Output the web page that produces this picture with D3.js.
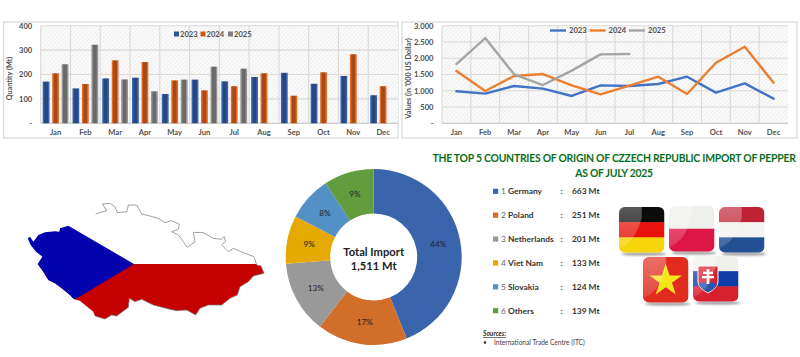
<!DOCTYPE html>
<html>
<head>
<meta charset="utf-8">
<script src="https://cdn.jsdelivr.net/npm/d3@7"></script>
<style>
  html, body { margin: 0; padding: 0; background: #fff; }
  svg { display: block; }
  text { font-family: Lato, "Open Sans", sans-serif; }
</style>
</head>
<body>
<script>
// data
const months = ["Jan", "Feb", "Mar", "Apr", "May", "Jun", "Jul", "Aug", "Sep", "Oct", "Nov", "Dec"];
const years = ["2023", "2024", "2025"];

const quantity2023 = [171, 143, 184, 187, 120, 179, 172, 190, 207, 162, 194, 115];
const quantity2024 = [205, 161, 258, 251, 176, 135, 152, 205, 113, 209, 283, 152];
const quantity2025 = [242, 322, 180, 131, 179, 232, 224];

const value2023 = [983, 911, 1147, 1065, 840, 1167, 1147, 1208, 1433, 942, 1229, 758];
const value2024 = [1607, 993, 1454, 1515, 1167, 891, 1157, 1433, 901, 1863, 2355, 1249];
const value2025 = [1822, 2621, 1505, 1177, 1618, 2119, 2130];

const countries = ["Germany", "Poland", "Netherlands", "Viet Nam", "Slovakia", "Others"];
const imports = [663, 251, 201, 133, 124, 139];

const quantityTicks = [0, 100, 200, 300, 400];
const valueTicks = [0, 500, 1000, 1500, 2000, 2500, 3000];

// outline of the country (west tip, clockwise)
const mapOutline = [[83,145],[90,140],[100,155],[115,135],[135,127],[165,124],[178,125],[180,115],[205,107],[215,100],[232,97],[238,85],[265,80],[300,68],[320,62],[307,42],[330,40],[345,50],[352,68],[380,65],[385,45],[410,45],[425,72],[450,78],[475,85],[495,98],[515,92],[538,103],[535,118],[515,125],[535,135],[550,155],[562,172],[585,155],[580,127],[610,128],[640,145],[665,148],[672,140],[677,155],[665,165],[685,185],[700,175],[730,188],[762,200],[770,225],[783,228],[792,250],[760,258],[745,275],[720,290],[712,315],[690,325],[665,345],[625,345],[600,355],[587,375],[560,360],[530,362],[510,358],[480,350],[460,345],[425,328],[405,335],[388,325],[385,352],[350,378],[335,375],[315,387],[285,378],[280,365],[255,345],[240,332],[222,328],[210,315],[185,295],[165,280],[145,270],[130,245],[113,222],[127,200],[108,185],[92,165]];

const yearColors = { "2023": "#2F5597", "2024": "#C55A1C", "2025": "#7F7F7F" };
const lineColors = { "2023": "#4472C4", "2024": "#ED7D31", "2025": "#A5A5A5" };
const sliceColors = ["#3A64AC", "#D06E2A", "#999999", "#E5A900", "#5390C4", "#639C3E"];

const svg = d3.select("body").append("svg")
  .attr("width", 800)
  .attr("height", 357);
const defs = svg.append("defs");

// light hatched plot background
let hatch = defs.append("pattern")
  .attr("id", "hatch")
  .attr("width", 3).attr("height", 3)
  .attr("patternUnits", "userSpaceOnUse")
  .attr("patternTransform", "rotate(45)");
hatch.append("rect").attr("width", 3).attr("height", 3).attr("fill", "#fbfbfb");
hatch.append("line").attr("x1", 0).attr("y1", 0).attr("x2", 0).attr("y2", 3)
  .attr("stroke", "#e8e8e8").attr("stroke-width", 1.4);

// bevel look of the bars
years.forEach(y => {
  let c = d3.color(yearColors[y]);
  let grad = defs.append("linearGradient").attr("id", "bar" + y);
  [[0, c.brighter(0.6)], [0.18, c.brighter(0.3)], [0.28, c.darker(0.5)], [0.72, c.darker(0.5)], [0.82, c.brighter(0.4)], [1, c.brighter(0.6)]]
    .forEach(s => grad.append("stop").attr("offset", s[0]).attr("stop-color", s[1]));
});

function frame(x, y, w, h) {
  svg.append("rect")
    .attr("x", x).attr("y", y).attr("width", w).attr("height", h)
    .attr("fill", "#fff").attr("stroke", "#dcdcdc").attr("stroke-width", 1.3);
}

// plot background, grid and both axes are the same for the two top charts
function drawAxes(xScale, yScale, ticks, tickFormat, yLabel, yLabelX) {
  let [x0, x1] = xScale.range();
  let [y0, y1] = yScale.range();
  svg.append("rect")
    .attr("x", x0).attr("y", y1).attr("width", x1 - x0).attr("height", y0 - y1)
    .attr("fill", "url(#hatch)");

  let grid = svg.append("g").attr("stroke", "#dadada").attr("stroke-width", 1.1);
  grid.selectAll("line.h").data(ticks).join("line").classed("h", true)
    .attr("x1", x0).attr("x2", x1)
    .attr("y1", d => yScale(d)).attr("y2", d => yScale(d))
    .attr("stroke", d => d === 0 ? "#bfbfbf" : "#dadada");
  grid.selectAll("line.v").data(months).join("line").classed("v", true)
    .attr("x1", d => xScale(d)).attr("x2", d => xScale(d))
    .attr("y1", y1).attr("y2", y0);

  let xAxisG = svg.append("g")
    .attr("transform", `translate(0, ${y0})`)
    .call(d3.axisBottom(xScale).tickSize(0).tickPadding(6));
  let yAxisG = svg.append("g")
    .attr("transform", `translate(${x0}, 0)`)
    .call(d3.axisLeft(yScale).tickValues(ticks).tickFormat(tickFormat).tickSize(0).tickPadding(8.5));
  [xAxisG, yAxisG].forEach(g => {
    g.select(".domain").remove();
    g.selectAll("text")
      .style("font-family", "Lato, sans-serif")
      .style("font-size", "7.6px")
      .style("font-weight", 700)
      .attr("fill", "#505050");
  });

  svg.append("text").text(yLabel)
    .attr("transform", `translate(${yLabelX}, ${(y0 + y1) / 2 + 4}) rotate(-90)`)
    .attr("text-anchor", "middle")
    .attr("font-size", 7.2).attr("font-weight", 700).attr("fill", "#505050");
}

//#region "quantity bars"
frame(3.5, 22, 394.5, 116);
let barX = d3.scaleBand().domain(months).range([40.7, 398]);
let barY = d3.scaleLinear().domain([0, 400]).range([123.3, 25.7]);
let barInner = d3.scaleBand().domain(years).range([0, barX.bandwidth()]).paddingInner(0.28).paddingOuter(0.21);
drawAxes(barX, barY, quantityTicks, d => d === 0 ? "-" : d, "Quantity (Mt)", 12);

[quantity2023, quantity2024, quantity2025].forEach((series, i) => {
  let year = years[i];
  svg.append("g").selectAll("rect")
    .data(series)
    .join("rect")
    .attr("x", (d, j) => barX(months[j]) + barInner(year))
    .attr("y", d => barY(d))
    .attr("width", barInner.bandwidth())
    .attr("height", d => barY(0) - barY(d))
    .attr("fill", `url(#bar${year})`);
});

let barLegendX = d3.scaleOrdinal().domain(years).range([174, 200.5, 228]);
let barLegend = svg.append("g").selectAll("g").data(years).join("g")
  .attr("transform", d => `translate(${barLegendX(d)}, 34)`);
barLegend.append("rect")
  .attr("x", 0).attr("y", -2.5).attr("width", 5).attr("height", 5)
  .attr("fill", d => yearColors[d]);
barLegend.append("text").text(d => d)
  .attr("x", 6).attr("y", 2.8)
  .attr("font-size", 7.6).attr("font-weight", 700).attr("fill", "#505050");
//#endregion

//#region "value lines"
frame(402, 22, 395, 116);
let lineX = d3.scaleBand().domain(months).range([442, 788]);
let lineY = d3.scaleLinear().domain([0, 3000]).range([123.3, 25.7]);
drawAxes(lineX, lineY, valueTicks, d => d === 0 ? "-" : d3.format(",")(d).replace(",", "."), "Values (in '000 US Dollar)", 411);

let lineGen = d3.line()
  .x((d, i) => lineX(months[i]) + lineX.bandwidth() / 2)
  .y(d => lineY(d));
[value2023, value2024, value2025].forEach((series, i) => {
  svg.append("path")
    .attr("d", lineGen(series))
    .attr("fill", "none")
    .attr("stroke", lineColors[years[i]])
    .attr("stroke-width", 2.4)
    .attr("stroke-linejoin", "round")
    .attr("stroke-linecap", "round");
});

let lineLegendX = d3.scaleOrdinal().domain(years).range([550, 589.5, 629]);
let lineLegend = svg.append("g").selectAll("g").data(years).join("g")
  .attr("transform", d => `translate(${lineLegendX(d)}, 30.5)`);
lineLegend.append("line")
  .attr("x1", 0).attr("x2", 16)
  .attr("stroke", d => lineColors[d]).attr("stroke-width", 2.4);
lineLegend.append("text").text(d => d)
  .attr("x", 19).attr("y", 2.6)
  .attr("font-size", 7.6).attr("font-weight", 700).attr("fill", "#505050");
//#endregion

//#region "map"
// the outline is in 3x picture units, from the crop at (0, 190)
let mapX = d3.scaleLinear().domain([0, 3]).range([0, 1]);
let mapY = d3.scaleLinear().domain([0, 3]).range([190, 191]);
let mapPath = d3.line().x(d => mapX(d[0])).y(d => mapY(d[1]))(mapOutline) + "Z";
let midY = mapY(222);

defs.append("clipPath").attr("id", "mapClip").append("path").attr("d", mapPath);
let map = svg.append("g").attr("clip-path", "url(#mapClip)");
map.append("rect").attr("x", 0).attr("y", 190).attr("width", 280).attr("height", midY - 190).attr("fill", "#fff");
map.append("rect").attr("x", 0).attr("y", midY).attr("width", 280).attr("height", 100).attr("fill", "#C40000");
map.append("path")
  .attr("d", `M0,${mapY(-10)}L${mapX(205)},${mapY(107)}L${mapX(402)},${midY}L${mapX(225)},${mapY(328)}L0,${mapY(450)}Z`)
  .attr("fill", "#0404AE");
svg.append("path").attr("d", mapPath)
  .attr("fill", "none").attr("stroke", "#777").attr("stroke-width", 0.7)
  .attr("stroke-linejoin", "round")
  .attr("clip-path", `path("M${mapX(205)},0H800V${midY}H${mapX(402)}L${mapX(205)},${mapY(107)}Z")`);
//#endregion

//#region "donut"
let total = d3.sum(imports);
let pieData = d3.pie().sort(null)(imports);
let arc = d3.arc().innerRadius(43.5).outerRadius(88);
let donut = svg.append("g").attr("transform", "translate(373.7, 257)");
donut.selectAll("path")
  .data(pieData)
  .join("path")
  .attr("d", arc)
  .attr("fill", (d, i) => sliceColors[i]);
donut.selectAll("text.pct")
  .data(pieData)
  .join("text").classed("pct", true)
  .text(d => Math.round(d.value / total * 100) + "%")
  .attr("transform", d => `translate(${arc.centroid(d)})`)
  .attr("text-anchor", "middle")
  .attr("dy", "0.35em")
  .attr("font-size", 8.2).attr("fill", "#222");
donut.append("text").text("Total Import")
  .attr("text-anchor", "middle").attr("y", -1.5)
  .attr("font-size", 11.2).attr("font-weight", 700).attr("fill", "#222");
donut.append("text").text(d3.format(",")(total) + " Mt")
  .attr("text-anchor", "middle").attr("y", 12.5)
  .attr("font-size", 11.2).attr("font-weight", 700).attr("fill", "#222");
//#endregion

//#region "title and list"
svg.append("text").text("THE TOP 5 COUNTRIES OF ORIGIN OF CZZECH REPUBLIC IMPORT OF PEPPER")
  .attr("x", 614).attr("y", 162)
  .attr("text-anchor", "middle")
  .attr("letter-spacing", -0.24)
  .attr("font-size", 10.4).attr("font-weight", 700).attr("fill", "#0B6E1E");
svg.append("text").text("AS OF JULY 2025")
  .attr("x", 614).attr("y", 176.5)
  .attr("text-anchor", "middle")
  .attr("letter-spacing", -0.24)
  .attr("font-size", 10.4).attr("font-weight", 700).attr("fill", "#0B6E1E");

let rowY = d3.scalePoint().domain(countries).range([191.3, 310.7]);
let rows = svg.append("g").selectAll("g").data(countries).join("g")
  .attr("transform", d => `translate(0, ${rowY(d)})`);
rows.append("rect")
  .attr("x", 493).attr("y", -2.6).attr("width", 5.2).attr("height", 5.2)
  .attr("fill", (d, i) => sliceColors[i]);
rows.append("text").text((d, i) => i + 1)
  .attr("x", 501).attr("y", 3)
  .attr("font-size", 8.4).attr("fill", "#666");
rows.append("text").text(d => d)
  .attr("x", 508).attr("y", 3)
  .attr("font-size", 8.4).attr("font-weight", 700).attr("fill", "#333");
rows.append("text").text(":")
  .attr("x", 560.5).attr("y", 3)
  .attr("font-size", 8.4).attr("font-weight", 700).attr("fill", "#333");
rows.append("text").text((d, i) => imports[i] + " Mt")
  .attr("x", 572).attr("y", 3)
  .attr("font-size", 8.4).attr("font-weight", 700).attr("fill", "#333");

svg.append("text").text("Sources:")
  .attr("x", 483).attr("y", 336)
  .attr("font-size", 6.6).attr("font-style", "italic").attr("font-weight", 700)
  .attr("text-decoration", "underline").attr("fill", "#333");
svg.append("text").text("•")
  .attr("x", 483).attr("y", 344.5).attr("font-size", 6.6).attr("fill", "#333");
svg.append("text").text("International Trade Centre (ITC)")
  .attr("x", 494).attr("y", 344.5).attr("font-size", 6.6).attr("fill", "#444");
//#endregion

//#region "flags"
defs.append("filter").attr("id", "soft").attr("x", "-30%").attr("y", "-200%").attr("width", "160%").attr("height", "500%")
  .append("feGaussianBlur").attr("stdDeviation", 1.3);
let gloss = defs.append("linearGradient").attr("id", "gloss").attr("x1", 0).attr("y1", 0).attr("x2", 0).attr("y2", 1);
gloss.append("stop").attr("offset", 0).attr("stop-color", "#fff").attr("stop-opacity", 0.32);
gloss.append("stop").attr("offset", 1).attr("stop-color", "#fff").attr("stop-opacity", 0.14);

const flagNames = ["Germany", "Poland", "Netherlands", "Viet Nam", "Slovakia"];
const flagX = [619, 669, 719, 643, 693];
const flagY = [207, 206, 207, 257, 256];
const flagStripes = [
  ["#0b0b0b", "#E8130C", "#F5D40B"],
  ["#efefec", "#DD1645"],
  ["#BE2233", "#f3f3f1", "#234F94"],
  ["#E02B1E"],
  ["#f0f0ee", "#0F3DA8", "#D8202E"]
];
const flagSize = 45.5;

flagNames.forEach((name, i) => {
  let g = svg.append("g").attr("transform", `translate(${flagX[i]}, ${flagY[i]})`);
  g.append("ellipse")
    .attr("cx", flagSize / 2 + 2).attr("cy", flagSize + 1.5)
    .attr("rx", flagSize / 2).attr("ry", 1.6)
    .attr("fill", "#9a9a9a").attr("filter", "url(#soft)");

  defs.append("clipPath").attr("id", "flag" + i).append("rect")
    .attr("width", flagSize).attr("height", flagSize).attr("rx", 6);
  let inner = g.append("g").attr("clip-path", `url(#flag${i})`);
  let bandY = d3.scaleBand().domain(d3.range(flagStripes[i].length)).range([0, flagSize]);
  inner.selectAll("rect")
    .data(flagStripes[i])
    .join("rect")
    .attr("y", (d, j) => bandY(j))
    .attr("width", flagSize)
    .attr("height", bandY.bandwidth() + 0.5)
    .attr("fill", d => d);

  if (name === "Viet Nam") {
    inner.append("path")
      .attr("d", d3.symbol(d3.symbolStar, 330)())
      .attr("transform", `translate(${flagSize / 2}, ${flagSize / 2 + 1})`)
      .attr("fill", "#F6E51B");
  }
  if (name === "Slovakia") {
    let shield = inner.append("g").attr("transform", "translate(15, 23)");
    shield.append("path")
      .attr("d", "M-10,-13H10V2C10,9 3,12 0,14C-3,12 -10,9 -10,2Z")
      .attr("fill", "#D8202E").attr("stroke", "#fff").attr("stroke-width", 1);
    shield.append("path")
      .attr("d", "M-9,6C-6,2 -3,3 0,5C3,3 6,2 9,6C6,11 2,12 0,13.4C-2,12 -6,11 -9,6Z")
      .attr("fill", "#2A56B0");
    shield.append("path")
      .attr("d", "M-1.3,-10H1.3V-7.2H5V-5H1.3V-3H6V-0.8H1.3V5H-1.3V-0.8H-6V-3H-1.3V-5H-5V-7.2H-1.3Z")
      .attr("fill", "#fff");
  }
  // glossy highlight on the left and top part of the tile
  inner.append("path")
    .attr("d", `M0,0H${flagSize * 0.5}V${flagSize * 0.24}C${flagSize * 0.42},${flagSize * 0.5} ${flagSize * 0.3},${flagSize * 0.8} 0,${flagSize * 0.9}Z`)
    .attr("fill", "url(#gloss)");
});
//#endregion
</script>
</body>
</html>
